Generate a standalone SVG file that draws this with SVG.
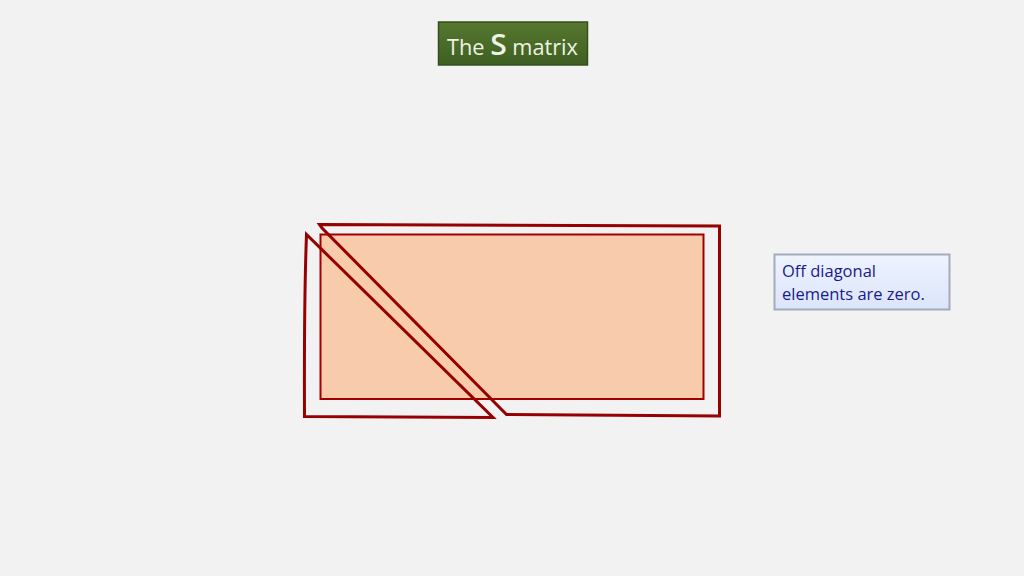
<svg xmlns="http://www.w3.org/2000/svg" width="1024" height="576" viewBox="0 0 1024 576">
<defs>
<linearGradient id="gTitle" x1="0" y1="0" x2="0" y2="1">
<stop offset="0" stop-color="#56782f"/>
<stop offset="1" stop-color="#3e5f22"/>
</linearGradient>
<linearGradient id="gNote" x1="0" y1="0" x2="0" y2="1">
<stop offset="0" stop-color="#eef3fe"/>
<stop offset="1" stop-color="#dbe5fa"/>
</linearGradient>
</defs>
<style>
.outline{fill:none;stroke:#960000;stroke-width:3;stroke-linejoin:miter}
.txt{font-family:"Open Sans","Liberation Sans",sans-serif}
</style>
<rect width="1024" height="576" fill="#f2f2f2"/>
<g id="title">
<rect x="438.5" y="22" width="149" height="43" fill="url(#gTitle)" stroke="#34501c" stroke-width="1.5"/>
<text class="txt" x="447" y="55" font-size="21" fill="#f0f2e4" textLength="131" lengthAdjust="spacingAndGlyphs">The <tspan font-size="29" font-weight="600">S</tspan> matrix</text>
</g>
<g id="matrix">
<rect x="320.5" y="234.5" width="383" height="164.5" fill="#f8cbad" stroke="#a00000" stroke-width="2"/>
</g>
<g id="lower-triangle">
<path class="outline" d="M306.5,234.5 Q304,300 304.5,416.5 L493,417.5 Z"/>
</g>
<g id="upper-triangle">
<path class="outline" d="M319.5,224.5 L719.5,226 L719.5,416 L506.5,414.5 L322,228 Z"/>
</g>
<g id="note">
<rect x="774.5" y="254.5" width="175" height="55" fill="url(#gNote)" stroke="#a3abbb" stroke-width="2"/>
<text class="txt" x="782" y="277" font-size="16.5" fill="#1a1a8c">Off diagonal</text>
<text class="txt" x="782" y="300" font-size="16.5" fill="#1a1a8c">elements are zero.</text>
</g>
<g id="connectors"/>
</svg>
